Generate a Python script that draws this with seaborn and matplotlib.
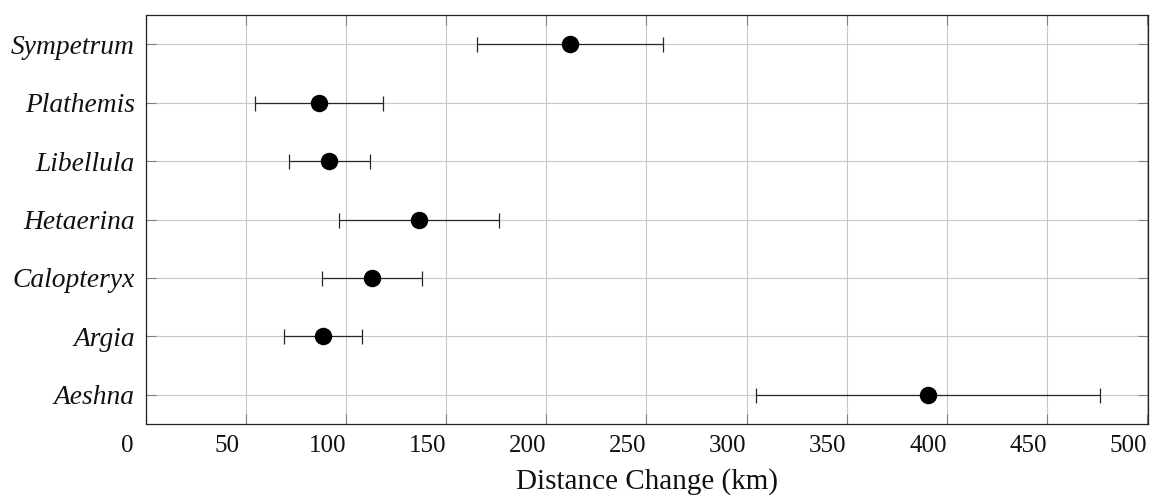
import numpy as np
import pandas as pd
import matplotlib
matplotlib.use("Agg")
import matplotlib.pyplot as plt
import matplotlib.transforms as mtransforms
import seaborn as sns

species = ["Sympetrum", "Plathemis", "Libellula", "Hetaerina", "Calopteryx", "Argia", "Aeshna"]
distance = [211.7, 86.3, 91.5, 136.5, 113.0, 88.2, 390.7]
error = [46.6, 32.0, 20.3, 40.0, 25.0, 19.5, 85.8]
x_ticks = [0, 50, 100, 150, 200, 250, 300, 350, 400, 450, 500]

df = pd.DataFrame({"species": species, "distance": distance, "error": error})
df["pos"] = np.arange(len(df))

sns.set_theme(style="ticks")
plt.rcParams["font.family"] = ["Liberation Serif", "DejaVu Serif"]

fig = plt.figure(figsize=(11.54, 5.01), dpi=100)
ax = fig.add_axes([146 / 1154, 1 - 424 / 501, (1148 - 146) / 1154, (424 - 15) / 501])

ax.errorbar(df["distance"], df["pos"], xerr=df["error"], fmt="none",
            ecolor="#262626", elinewidth=0.9, capsize=5.4, capthick=0.9, zorder=3)
sns.scatterplot(data=df, x="distance", y="pos", ax=ax, color="black", s=158,
                linewidth=0, zorder=4, legend=False)

ax.set_xlim(0, 500.5)
ax.set_ylim(len(df) - 0.5, -0.5)
ax.set_xticks(x_ticks)
ax.set_xticklabels([str(t) for t in x_ticks])
ax.set_yticks(df["pos"])
ax.set_yticklabels(species, fontstyle="italic", fontsize=19.8)

ax.grid(True, color="#c8c8c8", linewidth=0.8, zorder=0)
ax.set_axisbelow(True)
for s in ax.spines.values():
    s.set_color("#222222")
    s.set_linewidth(0.9)
    s.set_visible(True)

ax.tick_params(axis="both", which="major", direction="in", length=7, width=0.8,
               color="#808080", top=True, right=True)
ax.tick_params(axis="x", labelsize=18, pad=8)
ax.tick_params(axis="y", labelsize=19.8, pad=8)

offset = mtransforms.ScaledTranslation(-19 / 100, 0, fig.dpi_scale_trans)
for lbl in ax.get_xticklabels():
    lbl.set_transform(lbl.get_transform() + offset)

ax.set_xlabel("Distance Change (km)", fontsize=21, labelpad=8, color="#111111")
ax.set_ylabel("")
for lbl in ax.get_xticklabels() + ax.get_yticklabels():
    lbl.set_color("#111111")

fig.savefig("out.png", dpi=100)
